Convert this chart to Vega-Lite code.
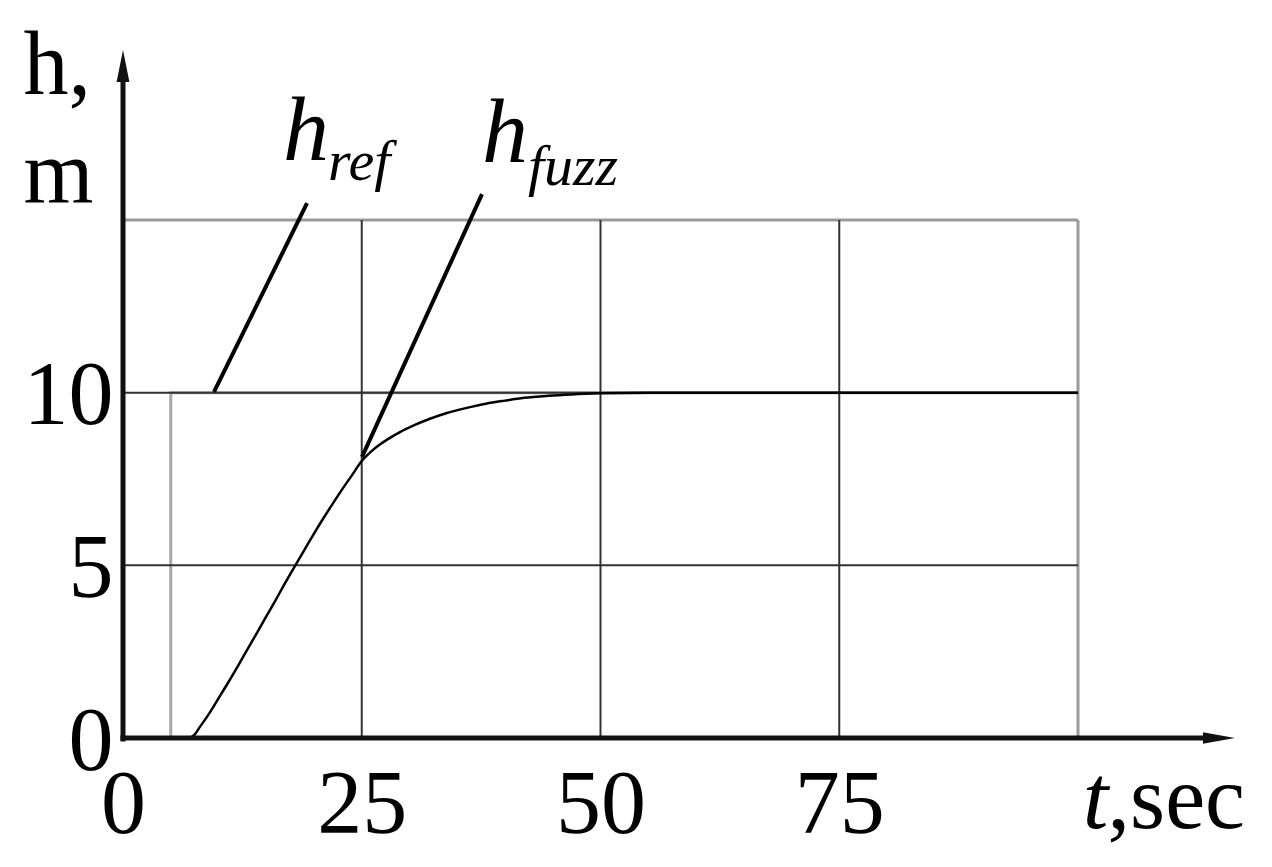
{
  "$schema": "https://vega.github.io/schema/vega-lite/v6.json",
  "autosize": {"type": "none"},
  "padding": {"left": 123, "top": 50, "right": 37, "bottom": 129},
  "width": 1112,
  "height": 688,
  "background": "white",
  "config": {"view": {"stroke": null}, "font": "Liberation Serif"},
  "datasets": {
    "fuzz": [
      {"t": 7.0, "h": 0},
      {"t": 7.5, "h": 0.1},
      {"t": 8.0, "h": 0.3},
      {"t": 9.0, "h": 0.7},
      {"t": 10.0, "h": 1.15},
      {"t": 11.0, "h": 1.6},
      {"t": 12.0, "h": 2.07},
      {"t": 13.0, "h": 2.55},
      {"t": 14.0, "h": 3.03},
      {"t": 15.0, "h": 3.52},
      {"t": 16.0, "h": 4.0},
      {"t": 17.0, "h": 4.5},
      {"t": 18.0, "h": 4.98},
      {"t": 19.0, "h": 5.45},
      {"t": 20.0, "h": 5.92},
      {"t": 21.0, "h": 6.37},
      {"t": 22.0, "h": 6.8},
      {"t": 23.0, "h": 7.22},
      {"t": 24.0, "h": 7.62},
      {"t": 25.0, "h": 8.02},
      {"t": 26.0, "h": 8.3},
      {"t": 27.0, "h": 8.52},
      {"t": 28.0, "h": 8.7},
      {"t": 29.0, "h": 8.86},
      {"t": 30.5, "h": 9.06},
      {"t": 32.0, "h": 9.23},
      {"t": 34.0, "h": 9.42},
      {"t": 36.0, "h": 9.56},
      {"t": 38.0, "h": 9.68},
      {"t": 40.0, "h": 9.77},
      {"t": 42.0, "h": 9.85},
      {"t": 44.5, "h": 9.91},
      {"t": 47.0, "h": 9.95},
      {"t": 50.0, "h": 9.98},
      {"t": 55.0, "h": 10.0},
      {"t": 100.0, "h": 10.0}
    ],
    "ref": [
      {"t": 5, "h": 0},
      {"t": 5, "h": 10},
      {"t": 100, "h": 10}
    ],
    "gridDark": [
      {"t": 25, "h": 0, "t2": 25, "h2": 15},
      {"t": 50, "h": 0, "t2": 50, "h2": 15},
      {"t": 75, "h": 0, "t2": 75, "h2": 15},
      {"t": 0, "h": 5, "t2": 100, "h2": 5},
      {"t": 0, "h": 10, "t2": 100, "h2": 10}
    ],
    "gridLight": [
      {"t": 100, "h": 0, "t2": 100, "h2": 15},
      {"t": 0, "h": 15, "t2": 100, "h2": 15}
    ],
    "leaders": [
      {"t": 9.53, "h": 10.02, "t2": 19.27, "h2": 15.49},
      {"t": 25.03, "h": 8.14, "t2": 37.59, "h2": 15.75}
    ],
    "axes": [
      {"t": -0.27, "h": 0, "t2": 113.5, "h2": 0},
      {"t": 0, "h": -0.1, "t2": 0, "h2": 19.0}
    ],
    "arrowX": [{"t": 114.76, "h": 0}],
    "arrowY": [{"t": 0, "h": 19.46}],
    "bigItalic": [
      {"t": 16.75, "h": 16.74, "label": "h"},
      {"t": 37.59, "h": 16.68, "label": "h"},
      {"t": 100.5, "h": -2.61, "label": "t"}
    ],
    "subs": [
      {"t": 21.47, "h": 16.16, "label": "ref"},
      {"t": 42.4, "h": 16.01, "label": "fuzz"}
    ],
    "unitText": [
      {"t": 103.1, "h": -2.61, "label": ",sec"}
    ]
  },
  "encoding": {
    "x": {
      "field": "t",
      "type": "quantitative",
      "scale": {"domain": [0, 116.44], "nice": false, "zero": false},
      "axis": {
        "values": [0, 25, 50, 75],
        "title": null,
        "domain": false,
        "ticks": false,
        "grid": false,
        "labelFont": "Liberation Serif",
        "labelFontSize": 90,
        "labelColor": "black",
        "labelBaseline": "alphabetic",
        "labelPadding": 94,
        "labelFlush": false,
        "labelOverlap": false
      }
    },
    "y": {
      "field": "h",
      "type": "quantitative",
      "scale": {"domain": [0, 19.923], "nice": false, "zero": false},
      "axis": {
        "values": [0, 5, 10],
        "title": ["h,", "m"],
        "titleFont": "Liberation Serif",
        "titleFontSize": 90,
        "titleFontWeight": "normal",
        "titleColor": "black",
        "titleAngle": 0,
        "titleAlign": "left",
        "titleBaseline": "alphabetic",
        "titleX": -100,
        "titleY": 43,
        "titleLineHeight": 109,
        "domain": false,
        "ticks": false,
        "grid": false,
        "labelFont": "Liberation Serif",
        "labelFontSize": 90,
        "labelColor": "black",
        "labelPadding": 10,
        "labelOffset": 4,
        "labelFlush": false,
        "labelOverlap": false
      }
    }
  },
  "layer": [
    {
      "data": {"name": "ref"},
      "mark": {"type": "line", "color": "#a8a8a8", "strokeWidth": 3, "clip": false}
    },
    {
      "data": {"name": "gridLight"},
      "mark": {"type": "rule", "color": "#9a9a9a", "strokeWidth": 3},
      "encoding": {"x2": {"field": "t2"}, "y2": {"field": "h2"}}
    },
    {
      "data": {"name": "gridDark"},
      "mark": {"type": "rule", "color": "#333333", "strokeWidth": 2},
      "encoding": {"x2": {"field": "t2"}, "y2": {"field": "h2"}}
    },
    {
      "data": {"name": "fuzz"},
      "mark": {"type": "line", "color": "black", "strokeWidth": 2.5, "interpolate": "monotone"}
    },
    {
      "data": {"name": "leaders"},
      "mark": {"type": "rule", "color": "black", "strokeWidth": 4},
      "encoding": {"x2": {"field": "t2"}, "y2": {"field": "h2"}}
    },
    {
      "data": {"name": "axes"},
      "mark": {"type": "rule", "color": "#111111", "strokeWidth": 5, "clip": false},
      "encoding": {"x2": {"field": "t2"}, "y2": {"field": "h2"}}
    },
    {
      "data": {"name": "arrowX"},
      "mark": {"type": "point", "shape": "M -1 -0.36 L 1 0 L -1 0.36 Z", "size": 1024, "filled": true, "color": "#111111", "opacity": 1, "strokeWidth": 0}
    },
    {
      "data": {"name": "arrowY"},
      "mark": {"type": "point", "shape": "M -0.4 1 L 0 -1 L 0.4 1 Z", "size": 1024, "filled": true, "color": "#111111", "opacity": 1, "strokeWidth": 0}
    },
    {
      "data": {"name": "bigItalic"},
      "mark": {"type": "text", "font": "Liberation Serif", "fontStyle": "italic", "fontSize": 92, "align": "left", "baseline": "alphabetic", "color": "black", "clip": false},
      "encoding": {"text": {"field": "label"}}
    },
    {
      "data": {"name": "subs"},
      "mark": {"type": "text", "font": "Liberation Serif", "fontStyle": "italic", "fontSize": 58, "align": "left", "baseline": "alphabetic", "color": "black"},
      "encoding": {"text": {"field": "label"}}
    },
    {
      "data": {"name": "unitText"},
      "mark": {"type": "text", "font": "Liberation Serif", "fontSize": 90, "align": "left", "baseline": "alphabetic", "color": "black"},
      "encoding": {"text": {"field": "label"}}
    }
  ]
}
